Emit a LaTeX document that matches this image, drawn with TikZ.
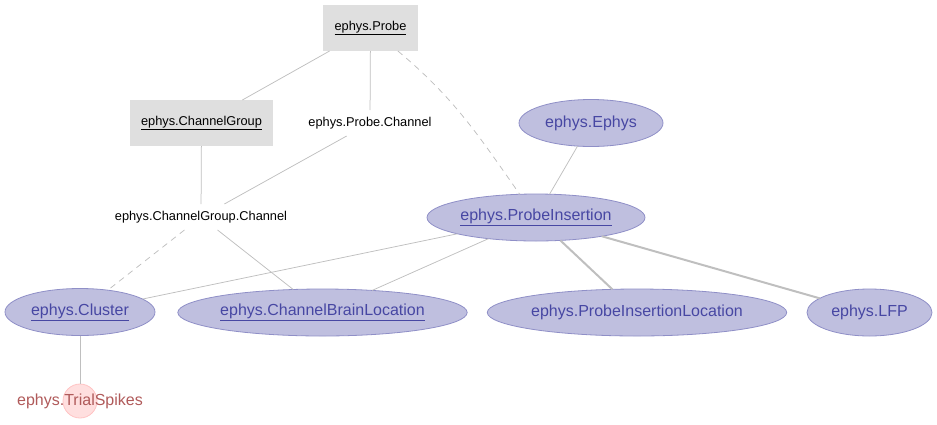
\documentclass[tikz,border=0pt]{standalone}
\usepackage{fontspec}
\setmainfont{Liberation Sans}
\usetikzlibrary{shapes.geometric}
\definecolor{lookupfill}{HTML}{DFDFDF}
\definecolor{importedfill}{HTML}{BFBFDF}
\definecolor{importedline}{HTML}{8F8FC7}
\definecolor{importedtext}{HTML}{4747A3}
\definecolor{computedfill}{HTML}{FFDFDF}
\definecolor{computedline}{HTML}{FFC3C3}
\definecolor{computedink}{HTML}{B05A5A}
\definecolor{linkgray}{HTML}{BFBFBF}
\newcommand{\smallfont}{\fontsize{12.8}{15}\selectfont}
\newcommand{\bigfont}{\fontsize{16}{19}\selectfont}
\tikzset{
    lookup/.style={rectangle, fill=lookupfill, draw=none, inner sep=0pt, outer sep=0pt, minimum height=46pt, font=\smallfont},
    part/.style={rectangle, inner xsep=4pt, inner ysep=0pt, outer sep=0pt, minimum height=26pt, font=\smallfont},
    imported/.style={ellipse, fill=importedfill, draw=importedline, line width=0.8pt, text=importedtext, inner sep=0pt, outer sep=0pt, minimum height=47pt, font=\bigfont},
    computed/.style={circle, fill=computedfill, draw=computedline, line width=0.8pt, inner sep=0pt, outer sep=0pt, minimum size=34pt},
    computedlabel/.style={text=computedink, font=\bigfont},
    link/.style={draw=linkgray, line width=0.75pt},
    onetoone/.style={link, line width=2pt},
    renamed/.style={link, dash pattern=on 6pt off 5pt},
}

\begin{document}
\begin{tikzpicture}[x=1pt, y=1pt]
    \useasboundingbox (0,0) rectangle (937,-424);
    % lookup tables
    \node[lookup, minimum width=95pt] (probe) at (370.5,-28) {\underline{ephys.Probe}};
    \node[lookup, minimum width=143pt] (channelgroup) at (201.5,-123) {\underline{ephys.ChannelGroup}};
    % part tables
    \node[part] (probechannel) at (370,-123) {ephys.Probe.Channel};
    \node[part] (groupchannel) at (201,-217) {ephys.ChannelGroup.Channel};
    % imported tables
    \node[imported, minimum width=144pt] (ephys) at (591,-123) {ephys.Ephys};
    \node[imported, minimum width=218pt] (insertion) at (536,-217.5) {\underline{ephys.ProbeInsertion}};
    \node[imported, minimum width=150pt] (cluster) at (80,-312) {\underline{ephys.Cluster}};
    \node[imported, minimum width=287pt] (brainloc) at (322.5,-312.5) {\underline{ephys.ChannelBrainLocation}};
    \node[imported, minimum width=294pt] (insertionloc) at (637,-312.5) {ephys.ProbeInsertionLocation};
    \node[imported, minimum width=125pt] (lfp) at (869.5,-312.5) {ephys.LFP};
    % computed table
    \node[computed, label={[computedlabel]center:ephys.TrialSpikes}] (trialspikes) at (80,-401) {};

    % dependencies
    \draw[link] (probe) -- (channelgroup);
    \draw[link] (probe) -- (probechannel);
    \draw[renamed] (probe) to[out=-40, in=125] (insertion);
    \draw[link] (channelgroup) -- (groupchannel);
    \draw[link] (probechannel) -- (groupchannel);
    \draw[renamed] (groupchannel) -- (cluster);
    \draw[link] (groupchannel) -- (brainloc);
    \draw[link] (ephys) -- (insertion);
    \draw[link] (insertion) -- (cluster);
    \draw[link] (insertion) -- (brainloc);
    \draw[onetoone] (insertion) -- (insertionloc);
    \draw[onetoone] (insertion) -- (lfp);
    \draw[link] (cluster) -- (trialspikes);
\end{tikzpicture}
\end{document}
